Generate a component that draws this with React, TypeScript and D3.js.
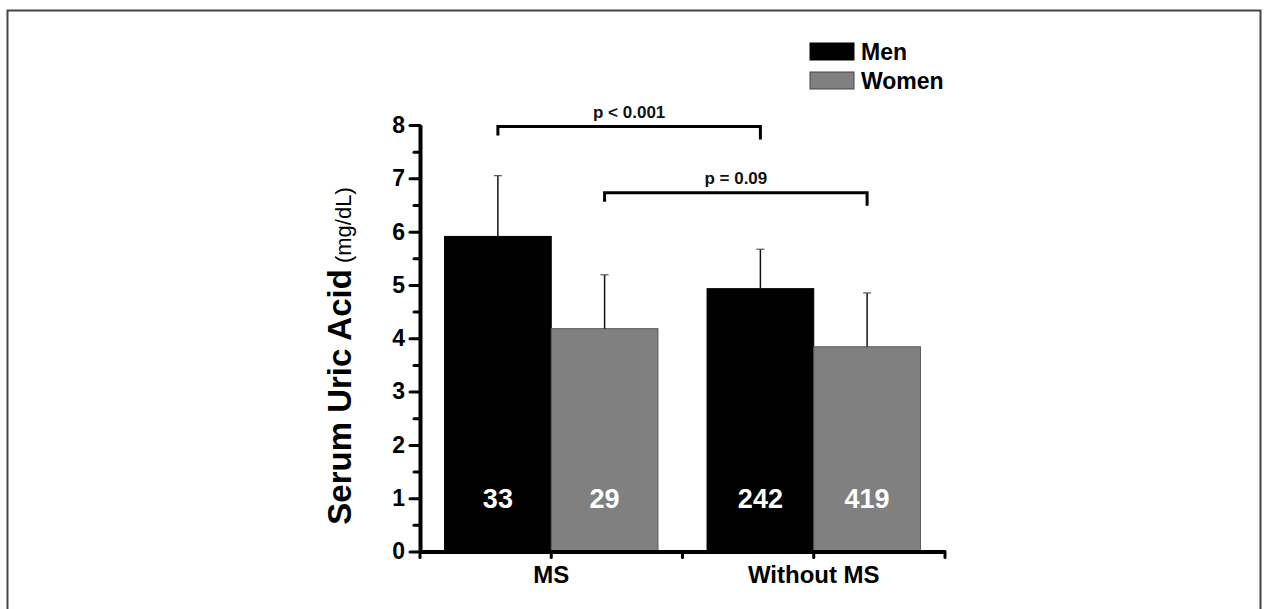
import React, { useEffect, useRef } from 'react';
import * as d3 from 'd3';

const categories = ['MS', 'Without MS'];
const series = ['Men', 'Women'];
const menMeans = [5.91, 4.93];
const womenMeans = [4.18, 3.84];
const menSD = [1.14, 0.74];
const womenSD = [1.01, 1.01];
const menN = ['33', '242'];
const womenN = ['29', '419'];
const yTicks = [0, 1, 2, 3, 4, 5, 6, 7, 8];
const yMinorTicks = [0.5, 1.5, 2.5, 3.5, 4.5, 5.5, 6.5, 7.5];
// comparisons between the two categories for one series + bracket level
const comparisons = [
  { label: 'p < 0.001', series: 'Men', level: 7.97 },
  { label: 'p = 0.09', series: 'Women', level: 6.73 }
];

const App = () => {
  const ref = useRef(null);

  useEffect(() => {
    d3.select(ref.current).selectAll('*').remove();

    const width = 1267;
    const height = 609;
    const font = '"Liberation Sans", Arial, sans-serif';

    const svg = d3.select(ref.current)
      .append('svg')
      .attr('width', width)
      .attr('height', height)
      .style('position', 'absolute')
      .style('left', 0)
      .style('top', 0)
      .style('font-family', font);

    svg.append('rect')
      .attr('width', width).attr('height', height).attr('fill', '#fff');

    // Frame
    svg.append('rect')
      .attr('x', 7.5).attr('y', 10.5)
      .attr('width', 1253).attr('height', 640)
      .attr('fill', 'none')
      .attr('stroke', '#444')
      .attr('stroke-width', 2);

    const data = categories.map((c, i) => ({
      category: c,
      values: [
        { series: 'Men', mean: menMeans[i], sd: menSD[i], n: menN[i] },
        { series: 'Women', mean: womenMeans[i], sd: womenSD[i], n: womenN[i] }
      ]
    }));

    const y = d3.scaleLinear().domain([0, 8]).range([551.5, 125]);
    const x0 = d3.scaleBand().domain(categories).range([420, 945]);
    const x1 = d3.scaleBand().domain(series).range([0, x0.bandwidth()]).paddingOuter(0.23);
    const color = d3.scaleOrdinal().domain(series).range(['#000000', '#808080']);

    const g = svg.append('g');

    // Bars
    const groups = g.selectAll('g.grp')
      .data(data).enter()
      .append('g')
      .attr('class', 'grp')
      .attr('transform', d => `translate(${x0(d.category)},0)`);

    groups.selectAll('rect')
      .data(d => d.values).enter()
      .append('rect')
      .attr('x', d => x1(d.series))
      .attr('y', d => y(d.mean))
      .attr('width', x1.bandwidth())
      .attr('height', d => y(0) - y(d.mean))
      .attr('fill', d => color(d.series))
      .attr('stroke', d => d.series === 'Women' ? '#5a5a5a' : '#000')
      .attr('stroke-width', 1);

    // Error bars
    groups.selectAll('line.err')
      .data(d => d.values).enter()
      .append('line')
      .attr('class', 'err')
      .attr('x1', d => x1(d.series) + x1.bandwidth() / 2)
      .attr('x2', d => x1(d.series) + x1.bandwidth() / 2)
      .attr('y1', d => y(d.mean))
      .attr('y2', d => y(d.mean + d.sd))
      .attr('stroke', '#111')
      .attr('stroke-width', 1.5);

    groups.selectAll('line.cap')
      .data(d => d.values).enter()
      .append('line')
      .attr('class', 'cap')
      .attr('x1', d => x1(d.series) + x1.bandwidth() / 2 - 4)
      .attr('x2', d => x1(d.series) + x1.bandwidth() / 2 + 4)
      .attr('y1', d => y(d.mean + d.sd))
      .attr('y2', d => y(d.mean + d.sd))
      .attr('stroke', '#555')
      .attr('stroke-width', 1.2);

    // Counts inside bars
    groups.selectAll('text.n')
      .data(d => d.values).enter()
      .append('text')
      .attr('class', 'n')
      .attr('x', d => x1(d.series) + x1.bandwidth() / 2)
      .attr('y', y(1) + 10)
      .attr('text-anchor', 'middle')
      .attr('fill', '#fff')
      .attr('font-size', 27)
      .attr('font-weight', 700)
      .text(d => d.n);

    // Y axis
    const yAxis = g.append('g')
      .attr('transform', 'translate(420,0)')
      .call(d3.axisLeft(y).tickValues(yTicks).tickSize(10).tickSizeOuter(0).tickPadding(5))
      .attr('font-family', font)
      .attr('font-size', 23)
      .attr('font-weight', 700);
    yAxis.select('.domain').attr('stroke-width', 4).attr('stroke', '#000');
    yAxis.selectAll('.tick line').attr('stroke-width', 3).attr('stroke-linecap', 'round');
    yAxis.selectAll('.tick text').attr('fill', '#000');

    const yMinor = g.append('g')
      .attr('transform', 'translate(420,0)')
      .call(d3.axisLeft(y).tickValues(yMinorTicks).tickSize(6).tickFormat(() => ''));
    yMinor.select('.domain').remove();
    yMinor.selectAll('.tick line').attr('stroke-width', 3).attr('stroke-linecap', 'round');

    // X axis
    const xAxis = g.append('g')
      .attr('transform', `translate(0,${y(0)})`)
      .call(d3.axisBottom(x0).tickSize(6).tickSizeOuter(0).tickPadding(8))
      .attr('font-family', font)
      .attr('font-size', 24)
      .attr('font-weight', 700);
    xAxis.select('.domain').attr('stroke-width', 4).attr('stroke', '#000');
    xAxis.selectAll('.tick line').attr('stroke-width', 3).attr('stroke-linecap', 'round');
    xAxis.selectAll('.tick text').attr('fill', '#000');

    const bounds = categories.map(c => x0(c)).concat([x0.range()[1]]);
    g.append('g')
      .attr('transform', `translate(0,${y(0)})`)
      .selectAll('line')
      .data(bounds).enter()
      .append('line')
      .attr('x1', d => d).attr('x2', d => d)
      .attr('y1', 0).attr('y2', 6)
      .attr('stroke', '#000')
      .attr('stroke-width', 3)
      .attr('stroke-linecap', 'round');

    // Y title
    const title = svg.append('text')
      .attr('transform', 'translate(351,356) rotate(-90)')
      .attr('text-anchor', 'middle')
      .attr('fill', '#000');
    title.append('tspan').attr('font-size', 33).attr('font-weight', 700).text('Serum Uric Acid');
    title.append('tspan').attr('font-size', 22).attr('font-weight', 400).text(' (mg/dL)');

    // Significance brackets
    const centre = (cat, s) => x0(cat) + x1(s) + x1.bandwidth() / 2;
    comparisons.forEach(c => {
      const xa = centre(categories[0], c.series);
      const xb = centre(categories[1], c.series);
      const yl = y(c.level);
      g.append('path')
        .attr('d', `M${xa},${yl + 9}V${yl}H${xb}V${yl + 13}`)
        .attr('fill', 'none')
        .attr('stroke', '#000')
        .attr('stroke-width', 3);
      g.append('text')
        .attr('x', (xa + xb) / 2)
        .attr('y', yl - 9)
        .attr('text-anchor', 'middle')
        .attr('font-size', 17)
        .attr('font-weight', 700)
        .attr('fill', '#111')
        .text(c.label);
    });

    // Legend
    const legend = svg.append('g').attr('transform', 'translate(810,43)');
    series.forEach((s, i) => {
      legend.append('rect')
        .attr('x', 0).attr('y', i * 29)
        .attr('width', 44).attr('height', 17)
        .attr('fill', color(s))
        .attr('stroke', s === 'Women' ? '#444' : '#000')
        .attr('stroke-width', 1);
      legend.append('text')
        .attr('x', 51).attr('y', i * 29 + 17)
        .attr('font-size', 23)
        .attr('font-weight', 700)
        .attr('fill', '#000')
        .text(s);
    });
  }, []);

  return <div id='chart' ref={ref}></div>;
};

export default App;
